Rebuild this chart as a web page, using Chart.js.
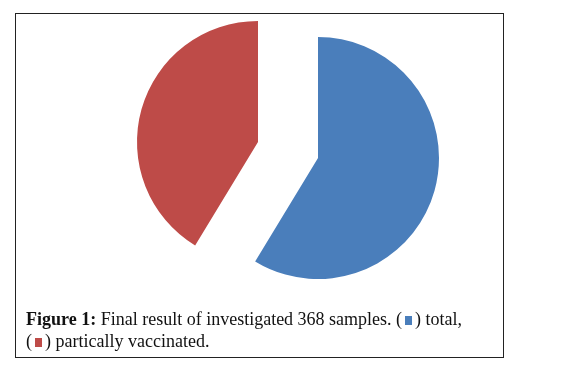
<!DOCTYPE html>
<html>
<head>
<meta charset="utf-8">
<script src="https://cdn.jsdelivr.net/npm/chart.js@4"></script>
<style>
  body { margin: 0; background: #fff; }
  #frame {
    position: absolute; left: 15px; top: 13px;
    width: 487px; height: 343px;
    border: 1.5px solid #222;
  }
  canvas { position: absolute; left: 0; top: 0; }
  #caption {
    position: absolute; left: 26px; top: 308px; width: 476px;
    font-family: "Liberation Serif", serif; font-size: 18px;
    line-height: 22px; color: #111;
  }
  .sw { display: inline-block; width: 7px; height: 9px; margin: 0 3px; }
</style>
</head>
<body>
<div id="frame"></div>
<canvas id="slice-total" width="573" height="380"></canvas>
<canvas id="slice-partial" width="573" height="380"></canvas>
<div id="caption">
  <b>Figure 1:</b> Final result of investigated 368 samples. (<span class="sw" style="background:#4a7ebb"></span>) total,<br>
  (<span class="sw" style="background:#be4b48"></span>) partically vaccinated.
</div>
<script>
/* ---------- DATA ---------- */
const labels = ['total', 'partically vaccinated'];
const samples = [216, 152];
const colors = ['#4a7ebb', '#be4b48'];

/* ---------- EXPLODED PIE ----------
   Chart.js's own "offset" bends the slice edges, so each slice is drawn
   by its own pie (same data) with its centre pulled apart instead. */
function drawSlice(canvasId, index, padding) {
  new Chart(document.getElementById(canvasId), {
    type: 'pie',
    data: {
      labels: labels,
      datasets: [{
        data: samples,
        backgroundColor: colors.map((c, i) => i === index ? c : 'rgba(0,0,0,0)'),
        borderWidth: 0
      }]
    },
    options: {
      responsive: false,
      animation: false,
      radius: 121,
      layout: { padding: padding },
      plugins: { legend: { display: false }, tooltip: { enabled: false } }
    }
  });
}

drawSlice('slice-total', 0, { left: 200, right: 137, top: 0, bottom: 64 });
drawSlice('slice-partial', 1, { left: 140, right: 197, top: 0, bottom: 96 });
</script>
</body>
</html>
